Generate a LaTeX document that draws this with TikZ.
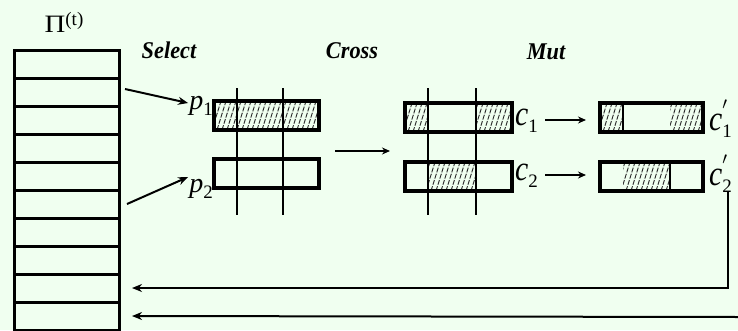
\documentclass[tikz,border=0pt]{standalone}
\usepackage{fontspec}
\setmainfont{Liberation Serif}
\usetikzlibrary{arrows.meta}
\definecolor{bg}{RGB}{240,255,240}
\tikzset{
  x=1pt, y=-1pt,
  cell/.style={draw, line width=3pt, minimum width=105pt, minimum height=28pt, inner sep=0pt, outer sep=0pt},
  chrom/.style={draw, line width=3.5pt, minimum height=29pt, inner sep=0pt, outer sep=0pt},
  cutline/.style={line width=1.4pt},
  hatchline/.style={line width=0.9pt, dash pattern=on 5pt off 1.5pt, black!85},
  bigarrow/.style={line width=2pt, -{Stealth[length=10pt,width=8pt]}},
  smallarrow/.style={line width=1.6pt, -{Stealth[length=8pt,width=7pt]}},
  steplabel/.style={font=\fontsize{24}{24}\selectfont\bfseries\itshape, inner sep=0pt, xscale=0.93},
  lab/.style={inner sep=0pt}
}
\newcommand{\hatchrect}[4]{%
  \begin{scope}
    \clip (#1,#2) rectangle (#3,#4);
    \foreach \k in {0,5,...,132} {\draw[hatchline] ({#1-12+\k},#4) -- ++(9,-29);}
  \end{scope}}
\newcommand{\plab}[2]{{\fontsize{28}{28}\selectfont\itshape #1}\raisebox{-6pt}{\fontsize{19}{19}\selectfont #2}}
\newcommand{\clab}[2]{\scalebox{0.85}[1]{\fontsize{35}{35}\selectfont\itshape c}\raisebox{-7pt}{\fontsize{19}{19}\selectfont #2}}
\newcommand{\cplab}[2]{\scalebox{0.85}[1]{\fontsize{35}{35}\selectfont\itshape c}\rlap{\raisebox{-7pt}{\fontsize{19}{19}\selectfont #2}}\raisebox{12pt}{\fontsize{24}{24}\selectfont$'$}}
\begin{document}
\begin{tikzpicture}
\path[fill=bg, use as bounding box] (0,0) rectangle (738,330);

% population column
\foreach \i in {1,...,10} {
  \node[cell] (r\i) at (66.5, {50+28*(\i-1)+14}) {};
}
\node[lab] (pi) at (64,22) {\scalebox{1.15}[1]{\fontsize{25}{25}\selectfont Π}\raisebox{7pt}{\fontsize{19}{19}\selectfont (t)}};

% step labels
\node[steplabel] (sel) at (169,50) {Select};
\node[steplabel] (cro) at (352,51) {Cross};
\node[steplabel] (mut) at (546,52) {Mut};

% parents
\hatchrect{214}{101}{319}{130}
\node[chrom, minimum width=105pt] (p1box) at (266.5,115.5) {};
\node[chrom, minimum width=105pt] (p2box) at (266.5,173.5) {};
\draw[cutline] (237,88) -- (237,215);
\draw[cutline] (283,88) -- (283,215);
\node[lab] (p1) at (201,106) {\plab{p}{1}};
\node[lab] (p2) at (201,189) {\plab{p}{2}};

% children after crossover
\hatchrect{405}{103}{428}{132}
\hatchrect{476}{103}{512}{132}
\hatchrect{428}{162}{476}{191}
\node[chrom, minimum width=107pt] (c1box) at (458.5,117.5) {};
\node[chrom, minimum width=107pt] (c2box) at (458.5,176.5) {};
\draw[cutline] (428,88) -- (428,215);
\draw[cutline] (476,88) -- (476,215);
\node[lab, anchor=west] (c1) at (515,121) {\clab{c}{1}};
\node[lab, anchor=west] (c2) at (515,176) {\clab{c}{2}};

% children after mutation
\hatchrect{600}{103}{623}{132}
\hatchrect{670}{103}{703}{132}
\hatchrect{623}{162}{670}{191}
\node[chrom, minimum width=103pt] (c1pbox) at (651.5,117.5) {};
\node[chrom, minimum width=103pt] (c2pbox) at (651.5,176.5) {};
\draw[line width=1.2pt] (623,103) -- (623,132);
\draw[line width=1.2pt] (670,162) -- (670,191);
\node[lab, anchor=west] (c1p) at (709,119) {\cplab{c}{1}};
\node[lab, anchor=west] (c2p) at (709,174) {\cplab{c}{2}};

% connectors
\draw[bigarrow] ([xshift=6pt,yshift=3pt]r2.east) -- ([xshift=-1pt,yshift=3pt]p1.west);
\draw[bigarrow] ([xshift=8pt]r6.east) -- ([xshift=-1pt,yshift=12pt]p2.west);
\coordinate (cxs) at (335,151);
\coordinate (cxe) at (390,151);
\draw[smallarrow] (cxs) -- (cxe);
\draw[smallarrow] ([xshift=33pt]c1box.east |- 0,120) -- ([xshift=-14pt]c1pbox.west |- 0,120);
\draw[smallarrow] ([xshift=33pt]c2box.east |- 0,175) -- ([xshift=-14pt]c2pbox.west |- 0,175);
\coordinate (ret) at (728,192);
\coordinate (edge) at (740,317);
\draw[bigarrow] (ret) |- ([xshift=13pt]r9.east);
\draw[bigarrow] (edge) -- ([xshift=13pt]r10.east);
\end{tikzpicture}
\end{document}
